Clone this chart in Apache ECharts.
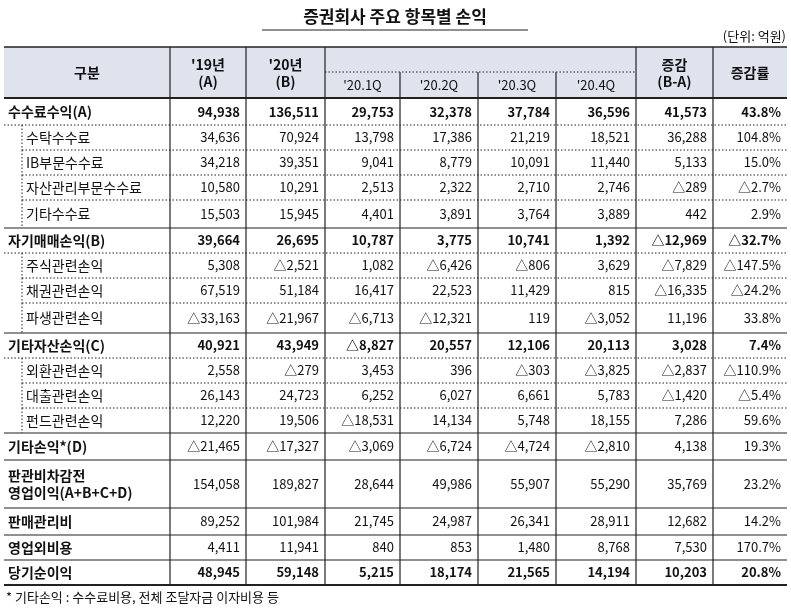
<!DOCTYPE html>
<html>
<head>
<meta charset="utf-8">
<script src="https://cdn.jsdelivr.net/npm/echarts@6/dist/echarts.min.js"></script>
<style>
  html, body { margin: 0; padding: 0; background: #fff; }
  #main { width: 791px; height: 613px; }
</style>
</head>
<body>
<div id="main"></div>
<script>
// 행 라벨
var labels = ['수수료수익(A)', '수탁수수료', 'IB부문수수료', '자산관리부문수수료', '기타수수료',
  '자기매매손익(B)', '주식관련손익', '채권관련손익', '파생관련손익',
  '기타자산손익(C)', '외환관련손익', '대출관련손익', '펀드관련손익',
  '기타손익*(D)', '판관비차감전\n영업이익(A+B+C+D)', '판매관리비', '영업외비용', '당기순이익'];
var level = [0,1,1,1,1, 0,1,1,1, 0,1,1,1, 0,0,0,0,0];
var boldRow = [1,0,0,0,0, 1,0,0,0, 1,0,0,0, 0,0,0,0,1];
var colHeads = ["'19년\n(A)", "'20년\n(B)", "'20.1Q", "'20.2Q", "'20.3Q", "'20.4Q", '증감\n(B-A)', '증감률'];
var y19 = ['94,938','34,636','34,218','10,580','15,503','39,664','5,308','67,519','△33,163','40,921','2,558','26,143','12,220','△21,465','154,058','89,252','4,411','48,945'];
var y20 = ['136,511','70,924','39,351','10,291','15,945','26,695','△2,521','51,184','△21,967','43,949','△279','24,723','19,506','△17,327','189,827','101,984','11,941','59,148'];
var q1 = ['29,753','13,798','9,041','2,513','4,401','10,787','1,082','16,417','△6,713','△8,827','3,453','6,252','△18,531','△3,069','28,644','21,745','840','5,215'];
var q2 = ['32,378','17,386','8,779','2,322','3,891','3,775','△6,426','22,523','△12,321','20,557','396','6,027','14,134','△6,724','49,986','24,987','853','18,174'];
var q3 = ['37,784','21,219','10,091','2,710','3,764','10,741','△806','11,429','119','12,106','△303','6,661','5,748','△4,724','55,907','26,341','1,480','21,565'];
var q4 = ['36,596','18,521','11,440','2,746','3,889','1,392','3,629','815','△3,052','20,113','△3,825','5,783','18,155','△2,810','55,290','28,911','8,768','14,194'];
var diff = ['41,573','36,288','5,133','△289','442','△12,969','△7,829','△16,335','11,196','3,028','△2,837','△1,420','7,286','4,138','35,769','12,682','7,530','10,203'];
var rate = ['43.8%','104.8%','15.0%','△2.7%','2.9%','△32.7%','△147.5%','△24.2%','33.8%','7.4%','△110.9%','△5.4%','59.6%','19.3%','23.2%','14.2%','170.7%','20.8%'];
var cols = [y19, y20, q1, q2, q3, q4, diff, rate];

var colX = [4, 170, 246, 325, 400, 478, 556, 636, 713, 787];
var rowY = [99, 125, 150, 175, 200, 228, 253, 278, 303, 333, 358, 383, 408, 433, 460, 508, 535, 560, 585];
var headTop = 47, headBot = 98;
var FONT = '"Noto Sans CJK KR", sans-serif';

var g = [];
function line(x1, y1, x2, y2, w, dash) {
  g.push({ type: 'line', shape: { x1: x1, y1: y1, x2: x2, y2: y2 },
    style: { stroke: '#222', lineWidth: w, lineDash: dash ? [1.5, 2] : null } });
}
function text(x, y, s, align, bold, size) {
  g.push({ type: 'text', x: x, y: y, style: { text: s, align: align, verticalAlign: 'middle',
    font: (bold ? 'bold ' : '') + (size || 14) + 'px ' + FONT, fill: '#111', lineHeight: 17 } });
}

// 제목
text(395, 17, '증권회사 주요 항목별 손익', 'center', true, 17);
line(262, 30, 528, 30, 1);
text(786, 36, '(단위: 억원)', 'right', false, 13);

// 헤더
g.push({ type: 'rect', shape: { x: colX[0], y: headTop, width: colX[9] - colX[0], height: headBot - headTop },
  style: { fill: '#dfe3ee' } });
text((colX[0] + colX[1]) / 2, 73, '구분', 'center', true, 14);
colHeads.forEach(function (h, i) {
  var cx = (colX[i + 1] + colX[i + 2]) / 2;
  if (i >= 2 && i <= 5) text(cx, 85, h, 'center', false, 13);
  else text(cx, 73, h, 'center', true, 14);
});
line(colX[3], 72, colX[7], 72, 1, true);
line(colX[0], headTop, colX[9], headTop, 1.5);
line(colX[0], headBot, colX[9], headBot, 2);

// 본문
labels.forEach(function (lab, r) {
  var top = rowY[r], bot = rowY[r + 1], cy = (top + bot) / 2;
  var sub = level[r] === 1;
  text(sub ? colX[0] + 22 : colX[0] + 4, cy, lab, 'left', !sub, 14);
  cols.forEach(function (c, k) {
    text(colX[k + 2] - 6, cy, c[r], 'right', boldRow[r] === 1, 13);
  });
  var nextSub = level[r + 1] === 1;
  if (nextSub) line(sub ? colX[0] + 18 : colX[0], bot, colX[9], bot, 1, true);
  else line(colX[0], bot, colX[9], bot, r === labels.length - 1 ? 2 : 1.2);
  if (sub) line(colX[0] + 18, top, colX[0] + 18, bot, 1, true);
});

// 세로선
colX.forEach(function (x, i) {
  if (i === 0 || i === 9) return;
  var top = (i >= 4 && i <= 6) ? 72 : headTop;
  line(x, top, x, rowY[rowY.length - 1], 1.2);
});

text(6, 597, '* 기타손익 : 수수료비용, 전체 조달자금 이자비용 등', 'left', false, 13);

var chart = echarts.init(document.getElementById('main'));
chart.setOption({ animation: false, graphic: { elements: g } });
</script>
</body>
</html>
